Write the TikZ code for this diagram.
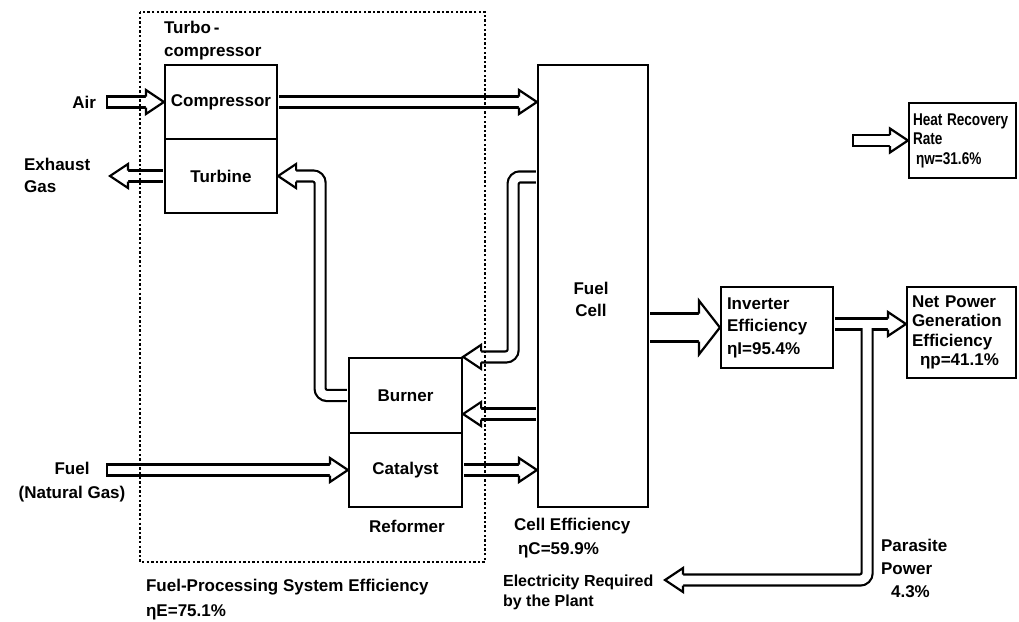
\documentclass[tikz,border=0pt]{standalone}
\usepackage{fontspec}
\setmainfont{Liberation Sans}
\newcommand\squeeze[1]{\scalebox{0.8}[1]{#1}}
\usetikzlibrary{calc}

\tikzset{
  head/.pic={\filldraw[fill=white] (-18,5.5) -- (-18,12) -- (0,0) -- (-18,-12) -- (-18,-5.5);},
  bighead/.pic={\filldraw[fill=white] (-21,14) -- (-21,27) -- (0,0) -- (-21,-27) -- (-21,-14);}
}

\begin{document}
\begin{tikzpicture}[x=1pt,y=-1pt,line width=2.2pt,
  font=\fontsize{17}{22}\selectfont\bfseries,
  box/.style={draw,minimum width=112pt,minimum height=74pt,inner sep=0pt},
  txt/.style={inner sep=0pt},
  pipe/.style={double=white,double distance=8.8pt,rounded corners=7pt,shorten <=1.1pt,shorten >=16pt},
  bigpipe/.style={pipe,double distance=25.8pt,shorten >=19pt},
  dots/.style={line width=1.8pt,dash pattern=on 2.4pt off 2.2pt}]
\useasboundingbox (0,0) rectangle (1019,621);

% units
\node[box] (comp) at (221,102) {Compressor};
\node[box] (turb) at (221,176) {Turbine};
\node[box,minimum width=110pt,minimum height=442pt] (cell) at (593,286) {};
\node[txt,align=center] (celltxt) at (591,299) {Fuel\\Cell};
\node[box,minimum width=113pt,minimum height=75pt] (burn) at (405.5,395.5) {Burner};
\node[box,minimum width=113pt] (cat) at (405.5,470) {Catalyst};
\node[box,minimum height=81pt,text width=100pt,inner xsep=6pt,align=left,
  font=\fontsize{17}{22.5}\selectfont\bfseries] (inv) at (777,327.5) {Inverter\\Efficiency\\ηI=95.4\%};
\node[box,minimum width=109pt,minimum height=91pt,text width=99pt,inner xsep=5pt,align=left,
  font=\fontsize{17}{19.5}\selectfont\bfseries] (net) at (961.5,332.5) {Net Power\\Generation\\Efficiency\\\hspace*{8pt}ηp=41.1\%};
\node[box,minimum width=107pt,minimum height=75pt,text width=99pt,inner xsep=4pt,align=left,
  font=\fontsize{17}{19.5}\selectfont\bfseries] (heat) at (962.5,140.5) {\squeeze{Heat Recovery}\\\squeeze{Rate}\\\hspace*{3pt}\squeeze{ηw=31.6\%}};

% labels
\node[txt,anchor=east] (air) at (97,102) {Air};
\node[txt,anchor=west,align=left] (exhaust) at (23,175) {Exhaust\\Gas};
\node[txt,anchor=west,align=left,font=\fontsize{17}{23}\selectfont\bfseries] (turbo) at (163,41) {Turbo\,-\\compressor};
\node[txt,align=center,font=\fontsize{17}{24}\selectfont\bfseries] (fuel) at (72,482) {Fuel\\(Natural Gas)};
\node[txt] (reformer) at (407,526) {Reformer};
\node[txt,anchor=west,align=left,font=\fontsize{17}{24}\selectfont\bfseries] (celleff) at (513,538) {Cell Efficiency\\\hspace*{4pt}ηC=59.9\%};
\node[txt,anchor=west,align=left,font=\fontsize{16}{20}\selectfont\bfseries] (elecreq) at (502,592) {Electricity Required\\by the Plant};
\node[txt,anchor=west,align=left,font=\fontsize{17}{23}\selectfont\bfseries] (parasite) at (880,568) {Parasite\\Power\\\hspace*{10pt}4.3\%};
\node[txt,anchor=west,align=left,font=\fontsize{17}{25}\selectfont\bfseries] (fpseff) at (145,600) {Fuel-Processing System Efficiency\\ηE=75.1\%};

\coordinate (airin) at (107,102);
\coordinate (exh) at (110,176);
\coordinate (fuelin) at (107,470);
\coordinate (heatin) at (853,140.5);
\coordinate (elec) at (665,580);
\coordinate (burnin) at ($(burn.east)+(0,18.5)$);

% flows
\draw[pipe] (airin) -- (comp.west);
\draw ([yshift=6.6pt]airin) -- ([yshift=-6.6pt]airin);
\pic at (comp.west) {head};
\draw[pipe] (comp.east) -- (cell.west |- comp.east);
\pic at (cell.west |- comp.east) {head};
\draw[pipe] (turb.west) -- (exh);
\pic[rotate=180] at (exh) {head};
\draw[pipe] (burn.west) -| ([xshift=42pt]turb.east) -- (turb.east);
\pic[rotate=180] at (turb.east) {head};
\draw[pipe] ($(cell.north west)+(0,113)$) -| ([xshift=50pt]burn.north east) -- (burn.north east);
\pic[rotate=180] at (burn.north east) {head};
\draw[pipe] (cell.west |- burnin) -- (burnin);
\pic[rotate=180] at (burnin) {head};
\draw[pipe] (fuelin) -- (cat.west);
\draw ([yshift=6.6pt]fuelin) -- ([yshift=-6.6pt]fuelin);
\pic at (cat.west) {head};
\draw[pipe] (cat.east) -- (cell.west |- cat.east);
\pic at (cell.west |- cat.east) {head};
\draw[bigpipe] (cell.east |- inv.west) -- (inv.west);
\pic at (inv.west) {bighead};

% power split
\coordinate (invout) at ($(inv.east)+(0,-3.5)$);
\coordinate (jn) at ($(invout)+(33,0)$);
\draw[line width=13.2pt,shorten <=1.1pt,shorten >=16pt] (invout) -- (net.west |- invout);
\draw[line width=13.2pt,rounded corners=7pt,shorten >=16pt] (jn) |- (elec);
\draw[white,line width=8.8pt,shorten <=1.1pt,shorten >=16pt] (invout) -- (net.west |- invout);
\draw[white,line width=8.8pt,rounded corners=7pt,shorten >=16pt] (jn) |- (elec);
\pic at (net.west |- invout) {head};
\pic[rotate=180] at (elec) {head};

\draw[pipe] (heatin) -- (heat.west);
\draw ([yshift=6.6pt]heatin) -- ([yshift=-6.6pt]heatin);
\pic at (heat.west) {head};

% fuel processing system
\draw[dots] (140,12) rectangle (485,562);
\end{tikzpicture}
\end{document}
